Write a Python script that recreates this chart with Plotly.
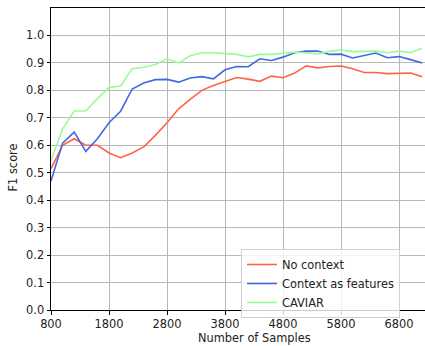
import plotly.graph_objects as go

samples = list(range(800, 7201, 200))

no_context = [0.515, 0.60, 0.624, 0.60, 0.60, 0.572, 0.555, 0.572, 0.594, 0.636,
              0.682, 0.733, 0.767, 0.80, 0.818, 0.833, 0.847, 0.841, 0.833, 0.852,
              0.846, 0.863, 0.889, 0.882, 0.887, 0.889, 0.879, 0.865, 0.865, 0.861,
              0.863, 0.863, 0.85]

context_features = [0.47, 0.608, 0.648, 0.578, 0.624, 0.682, 0.724, 0.805, 0.827, 0.839,
                    0.840, 0.830, 0.845, 0.850, 0.842, 0.875, 0.887, 0.886, 0.915, 0.909,
                    0.921, 0.937, 0.943, 0.943, 0.931, 0.932, 0.918, 0.926, 0.936, 0.919,
                    0.923, 0.912, 0.90]

caviar = [0.545, 0.66, 0.725, 0.725, 0.77, 0.81, 0.816, 0.879, 0.884, 0.894,
          0.915, 0.90, 0.926, 0.937, 0.937, 0.933, 0.931, 0.922, 0.931, 0.931,
          0.935, 0.939, 0.937, 0.933, 0.942, 0.947, 0.941, 0.942, 0.943, 0.937,
          0.943, 0.938, 0.953]

x_ticks = [800, 1800, 2800, 3800, 4800, 5800, 6800]
y_ticks = [0.0, 0.1, 0.2, 0.3, 0.4, 0.5, 0.6, 0.7, 0.8, 0.9, 1.0]

series = [
    ("No context", no_context, "#FF6347"),
    ("Context as features", context_features, "#4169E1"),
    ("CAVIAR", caviar, "#98FB98"),
]

fig = go.Figure()
for name, vals, color in series:
    fig.add_trace(go.Scatter(x=samples, y=vals, mode="lines", name=name,
                             line=dict(color=color, width=1.6)))

FS = 11.4
font = dict(family="DejaVu Sans", size=FS, color="#222222")

fig.update_layout(
    width=425, height=346,
    margin=dict(l=51, r=0, t=8, b=36),
    paper_bgcolor="white", plot_bgcolor="white",
    font=font,
    showlegend=True,
    legend=dict(x=0.508, y=0.202, xanchor="left", yanchor="top",
                bgcolor="rgba(255,255,255,0.8)", bordercolor="#d0d0d0", borderwidth=1,
                font=dict(family="DejaVu Sans", size=FS, color="#222222"),
                itemwidth=30, tracegroupgap=0),
    xaxis=dict(range=[800, 7248], tickvals=x_ticks, ticktext=[str(v) for v in x_ticks],
               showgrid=True, gridcolor="#b8b8b8", gridwidth=1,
               showline=True, linecolor="black", linewidth=1, mirror=True,
               ticks="outside", ticklen=3.5, tickcolor="black",
               zeroline=False),
    yaxis=dict(range=[0, 1.1], tickvals=y_ticks, ticktext=[f"{v:.1f}" for v in y_ticks],
               showgrid=True, gridcolor="#b8b8b8", gridwidth=1,
               showline=True, linecolor="black", linewidth=1,
               ticks="outside", ticklen=3.5, tickcolor="black",
               zeroline=False),
    annotations=[
        dict(text="Number of Samples", xref="paper", yref="paper",
             x=0.543, y=-0.093, xanchor="center", yanchor="middle",
             showarrow=False, font=font),
        dict(text="F1 score", xref="paper", yref="paper",
             x=-0.1003, y=0.4735, xanchor="center", yanchor="middle",
             textangle=-90, showarrow=False, font=font),
    ],
)

fig.write_html("out.html")
